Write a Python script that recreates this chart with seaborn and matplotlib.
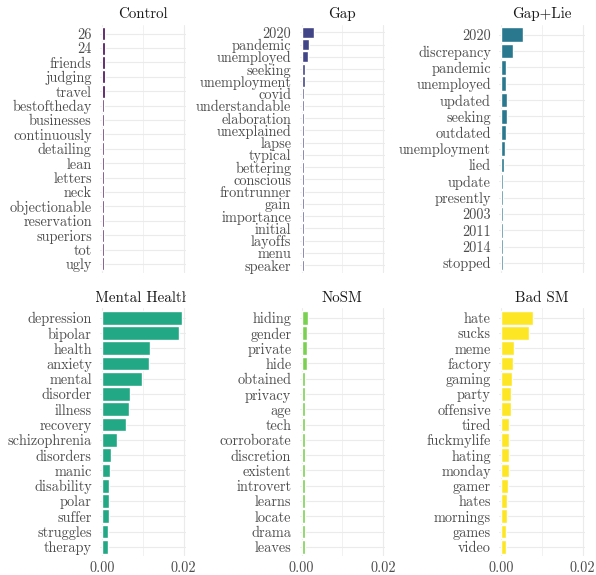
import matplotlib
matplotlib.use("Agg")
import matplotlib.pyplot as plt
from matplotlib.ticker import FixedLocator, StrMethodFormatter
from matplotlib.transforms import Bbox, TransformedBbox
import pandas as pd
import seaborn as sns

# tf-idf scores of the top words in each group
control_words = ["26", "24", "friends", "judging", "travel", "bestoftheday", "businesses",
                 "continuously", "detailing", "lean", "letters", "neck", "objectionable",
                 "reservation", "superiors", "tot", "ugly"]
control_tfidf = [0.00070, 0.00068, 0.00062, 0.00060, 0.00060, 0.00045, 0.00045, 0.00045,
                 0.00045, 0.00045, 0.00045, 0.00045, 0.00045, 0.00045, 0.00045, 0.00045, 0.00045]

gap_words = ["2020", "pandemic", "unemployed", "seeking", "unemployment", "covid",
             "understandable", "elaboration", "unexplained", "lapse", "typical", "bettering",
             "conscious", "frontrunner", "gain", "importance", "initial", "layoffs", "menu",
             "speaker"]
gap_tfidf = [0.0030, 0.0017, 0.00155, 0.0009, 0.0009, 0.00065, 0.0006, 0.0006, 0.0006,
             0.0005, 0.0005, 0.0005, 0.0005, 0.0005, 0.0005, 0.0005, 0.0005, 0.0005, 0.0005,
             0.0005]

gaplie_words = ["2020", "discrepancy", "pandemic", "unemployed", "updated", "seeking",
                "outdated", "unemployment", "lied", "update", "presently", "2003", "2011",
                "2014", "stopped"]
gaplie_tfidf = [0.0054, 0.0029, 0.00105, 0.0012, 0.0014, 0.0014, 0.00105, 0.0008, 0.0006,
                0.0005, 0.0005, 0.0005, 0.0005, 0.0005, 0.0005]

mental_words = ["depression", "bipolar", "health", "anxiety", "mental", "disorder", "illness",
                "recovery", "schizophrenia", "disorders", "manic", "disability", "polar",
                "suffer", "struggles", "therapy"]
mental_tfidf = [0.0195, 0.0189, 0.0117, 0.01146, 0.00976, 0.00683, 0.0066, 0.00578, 0.00366,
                0.0022, 0.00195, 0.00179, 0.00179, 0.00163, 0.00154, 0.0015]

nosm_words = ["hiding", "gender", "private", "hide", "obtained", "privacy", "age", "tech",
              "corroborate", "discretion", "existent", "introvert", "learns", "locate",
              "drama", "leaves"]
nosm_tfidf = [0.00145, 0.0014, 0.0014, 0.0014, 0.0009, 0.00085, 0.00085, 0.00085, 0.00083,
              0.00083, 0.00083, 0.00083, 0.00083, 0.00083, 0.0007, 0.0007]

badsm_words = ["hate", "sucks", "meme", "factory", "gaming", "party", "offensive", "tired",
               "fuckmylife", "hating", "monday", "gamer", "hates", "mornings", "games", "video"]
badsm_tfidf = [0.0078, 0.0067, 0.0031, 0.0029, 0.0027, 0.00244, 0.0023, 0.0019, 0.0018,
               0.0018, 0.0018, 0.0016, 0.00146, 0.00146, 0.0012, 0.0012]

groups = ["Control", "Gap", "Gap+Lie", "Mental Health", "NoSM", "Bad SM"]
group_words = [control_words, gap_words, gaplie_words, mental_words, nosm_words, badsm_words]
group_tfidf = [control_tfidf, gap_tfidf, gaplie_tfidf, mental_tfidf, nosm_tfidf, badsm_tfidf]
palette = ["#440154", "#414487", "#2A788E", "#22A884", "#7AD151", "#FDE725"]

df = pd.concat(
    [pd.DataFrame({"group": g, "word": w, "tf_idf": v})
     for g, w, v in zip(groups, group_words, group_tfidf)],
    ignore_index=True,
)

sns.set_theme(style="white")
plt.rcParams["font.family"] = ["cmr10", "DejaVu Serif"]
plt.rcParams["axes.formatter.use_mathtext"] = True

fig, axes = plt.subplots(2, 3, figsize=(5.96, 5.75), dpi=100, sharex=True)
fig.subplots_adjust(left=0.168, right=0.981, top=0.9565, bottom=0.033,
                    wspace=1.335, hspace=0.145)

for ax, g, color in zip(axes.flat, groups, palette):
    sub = df[df["group"] == g]
    n = len(sub)
    ax.set_axisbelow(True)
    sns.barplot(data=sub, x="tf_idf", y="word", order=list(sub["word"]), color=color,
                width=0.9, saturation=1, orient="h", ax=ax)
    ax.set_xlim(-0.0005, 0.0205)
    ax.set_ylim(n - 1 + 0.6, -0.6)
    ax.xaxis.set_major_locator(FixedLocator([0.0, 0.02]))
    ax.xaxis.set_minor_locator(FixedLocator([0.01]))
    ax.xaxis.set_major_formatter(StrMethodFormatter("{x:.2f}"))
    ax.grid(True, which="major", axis="both", color="#ebebeb", linewidth=0.8)
    ax.grid(True, which="minor", axis="x", color="#ebebeb", linewidth=0.5)
    ax.set_xlabel("")
    ax.set_ylabel("")
    for s in ax.spines.values():
        s.set_visible(False)
    ax.tick_params(axis="both", which="both", length=0, labelsize=10.3,
                   labelcolor="#4d4d4d")
    ax.tick_params(axis="y", pad=6)
    ax.tick_params(axis="x", pad=4)
    title = ax.set_title(g, fontsize=10.8, color="#1a1a1a", pad=5)
    # long strip labels get cut off at the right edge of the strip
    clip = TransformedBbox(Bbox([[-0.0015, -0.2], [0.0205, 1.2]]),
                           ax.get_xaxis_transform())
    title.set_clip_box(clip)
    title.set_clip_on(True)

for ax in axes[0]:
    ax.tick_params(axis="x", labelbottom=False)

fig.savefig("out.png", dpi=100)
